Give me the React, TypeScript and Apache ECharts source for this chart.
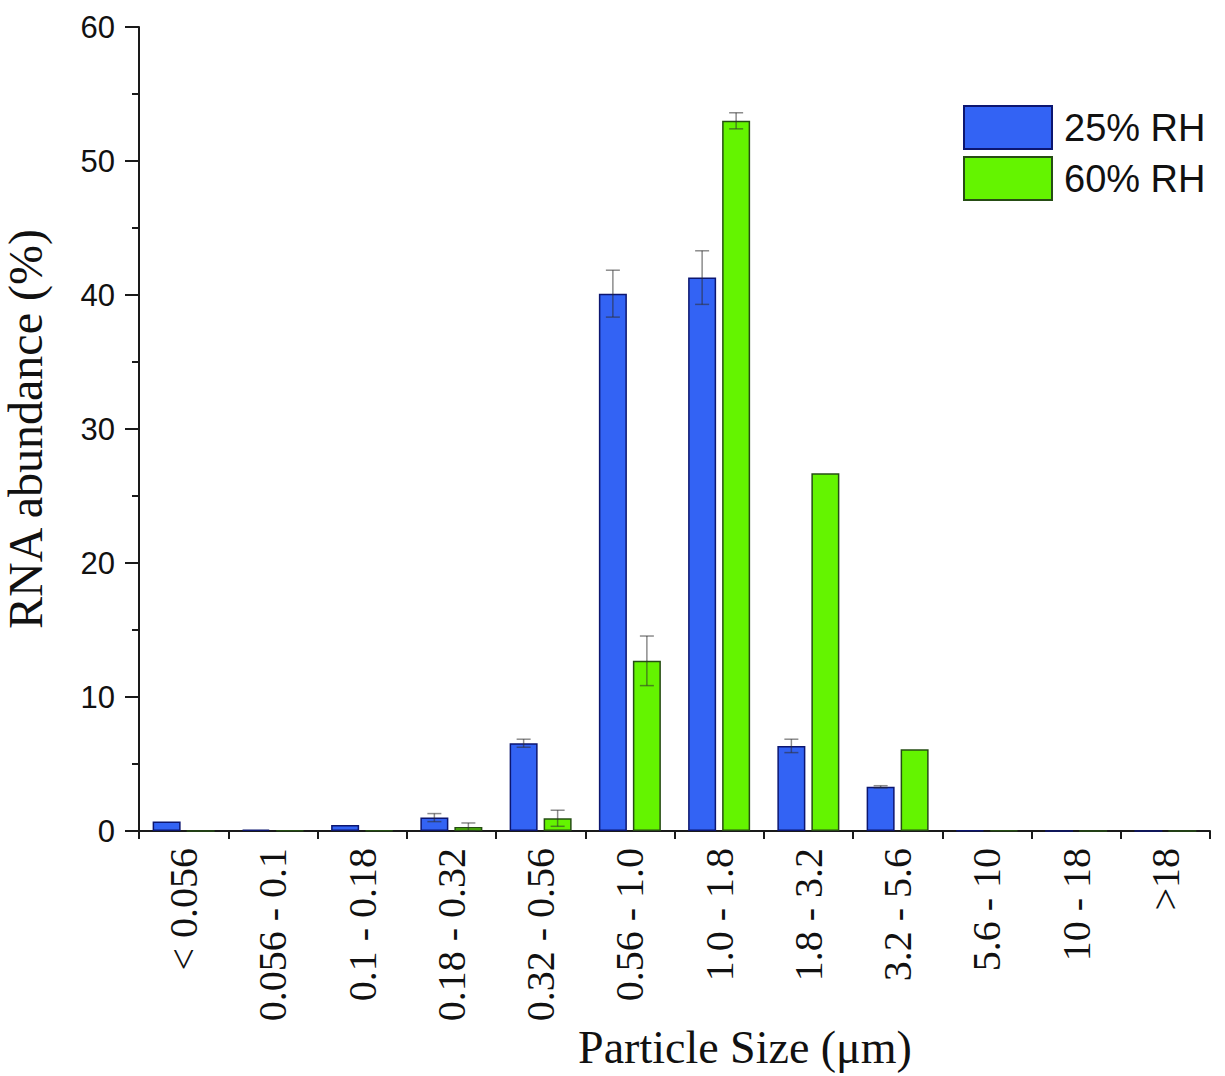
import React, { useEffect, useRef } from "react";
import * as echarts from "echarts";

const categories = [
  "< 0.056",
  "0.056 - 0.1",
  "0.1 - 0.18",
  "0.18 - 0.32",
  "0.32 - 0.56",
  "0.56 - 1.0",
  "1.0 - 1.8",
  "1.8 - 3.2",
  "3.2 - 5.6",
  "5.6 - 10",
  "10 - 18",
  ">18",
];

const rh25 = [0.7, 0.1, 0.45, 1.0, 6.55, 40.1, 41.3, 6.35, 3.3, 0.05, 0, 0];
const rh25Err = [0, 0, 0, 0.3, 0.3, 1.75, 2.0, 0.5, 0.08, 0, 0, 0];
const rh60 = [0, 0.05, 0.05, 0.3, 0.95, 12.7, 53.0, 26.7, 6.1, 0.05, 0, 0];
const rh60Err = [0, 0, 0, 0.3, 0.6, 1.85, 0.6, 0, 0, 0, 0, 0];

const seriesNames = ["25% RH", "60% RH"];
const yTicks = { min: 0, max: 60, interval: 10 };

const BAR_W = 28;
const BAR_GAP = 6;
const OFFSET = (BAR_W + BAR_GAP) / 2;

function makeErr(offset: number) {
  return (params: any, api: any) => {
    const i = api.value(0);
    const v = api.value(1);
    const e = api.value(2);
    if (!e) return { type: "group", children: [] };
    const top = api.coord([i, v + e]);
    const bot = api.coord([i, v - e]);
    const x = top[0] + offset;
    const style = { stroke: "rgba(45,45,45,0.55)", lineWidth: 1.5 };
    return {
      type: "group",
      children: [
        { type: "line", shape: { x1: x, y1: top[1], x2: x, y2: bot[1] }, style },
        { type: "line", shape: { x1: x - 7, y1: top[1], x2: x + 7, y2: top[1] }, style },
        { type: "line", shape: { x1: x - 7, y1: bot[1], x2: x + 7, y2: bot[1] }, style },
      ],
    };
  };
}

export default function App() {
  const ref = useRef<HTMLDivElement>(null);
  useEffect(() => {
    if (!ref.current) return;
    const chart = echarts.init(ref.current, null, { renderer: "svg" });
    const axisColor = "#1a1a1a";
    chart.setOption({
      animation: false,
      backgroundColor: "#ffffff",
      grid: {
        left: 139,
        right: 15,
        top: 27,
        bottom: 245,
        containLabel: false,
        outerBoundsMode: "none",
      },
      legend: {
        orient: "vertical",
        left: 963,
        top: 105,
        padding: 0,
        itemWidth: 88,
        itemHeight: 43,
        itemGap: 6,
        icon: "rect",
        textStyle: {
          fontFamily: "Liberation Sans",
          fontSize: 38,
          color: "#111",
          padding: [0, 0, 0, 7],
        },
        data: seriesNames,
      },
      xAxis: {
        type: "category",
        data: categories,
        axisLine: { lineStyle: { color: axisColor, width: 2 } },
        axisTick: { show: true, length: 8, lineStyle: { color: axisColor, width: 2 } },
        axisLabel: {
          rotate: 90,
          interval: 0,
          margin: 17,
          fontFamily: "Liberation Serif",
          fontSize: 40,
          color: "#111",
        },
        splitLine: { show: false },
      },
      yAxis: {
        type: "value",
        min: yTicks.min,
        max: yTicks.max,
        interval: yTicks.interval,
        name: "RNA abundance (%)",
        nameLocation: "middle",
        nameGap: 90,
        nameTextStyle: {
          fontFamily: "Liberation Serif",
          fontSize: 48,
          color: "#111",
        },
        axisLine: { show: true, lineStyle: { color: axisColor, width: 2 } },
        axisTick: { show: true, length: 14, lineStyle: { color: axisColor, width: 2 } },
        minorTick: { show: true, splitNumber: 2, length: 7, lineStyle: { color: axisColor, width: 2 } },
        splitLine: { show: false },
        minorSplitLine: { show: false },
        axisLabel: {
          fontFamily: "Liberation Sans",
          fontSize: 31,
          color: "#111",
          margin: 24,
        },
      },
      series: [
        {
          name: seriesNames[0],
          type: "bar",
          data: rh25,
          barWidth: BAR_W,
          barGap: `${(BAR_GAP / BAR_W) * 100}%`,
          itemStyle: { color: "#3363f4", borderColor: "#0c1670", borderWidth: 1.5 },
        },
        {
          name: seriesNames[1],
          type: "bar",
          data: rh60,
          barWidth: BAR_W,
          barGap: `${(BAR_GAP / BAR_W) * 100}%`,
          itemStyle: { color: "#64f400", borderColor: "#264d14", borderWidth: 1.5 },
        },
        {
          type: "custom",
          renderItem: makeErr(-OFFSET),
          data: categories.map((c, i) => [i, rh25[i], rh25Err[i]]),
          encode: { x: 0, y: 1 },
          z: 10,
          silent: true,
        },
        {
          type: "custom",
          renderItem: makeErr(OFFSET),
          data: categories.map((c, i) => [i, rh60[i], rh60Err[i]]),
          encode: { x: 0, y: 1 },
          z: 10,
          silent: true,
        },
      ],
      graphic: [
        {
          type: "text",
          x: 745,
          y: 1047,
          style: {
            text: "Particle Size (μm)",
            font: '46px "Liberation Serif"',
            fill: "#111",
            align: "center",
            verticalAlign: "middle",
            textAlign: "center",
            textVerticalAlign: "middle",
          },
        },
      ],
    });
    return () => chart.dispose();
  }, []);
  return (
    <div
      ref={ref}
      style={{ position: "fixed", left: 0, top: 0, width: 1225, height: 1076 }}
    />
  );
}
